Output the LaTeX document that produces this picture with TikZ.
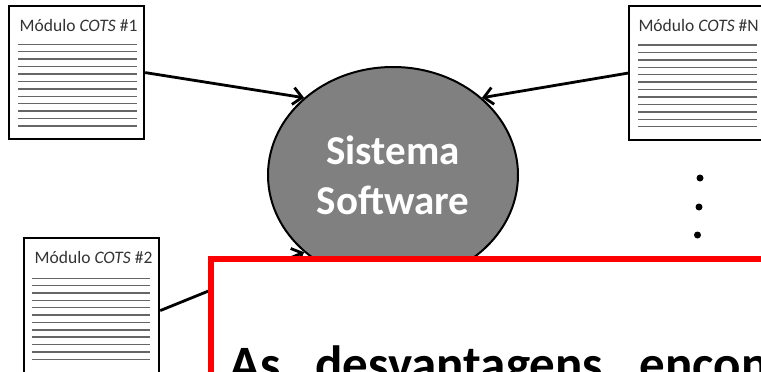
\documentclass[tikz,border=0pt]{standalone}
\usepackage{fontspec}
\setmainfont{Carlito}
\usetikzlibrary{arrows.meta,calc,shapes.geometric}
\tikzset{
  modbox/.style={draw=black, line width=2.2pt, fill=white, minimum width=135pt, minimum height=133pt, inner sep=0pt, anchor=north west},
  modlabel/.style={font=\fontsize{17.5}{20}\selectfont, text=black!80, inner sep=0pt},
  modline/.style={draw=black!60, line width=1.4pt},
  conn/.style={line width=2.8pt, -{Straight Barb[length=9pt,width=17pt,line width=2.8pt]}},
  sysnode/.style={ellipse, draw=black, line width=2pt, fill=black!50, minimum width=250pt, minimum height=216pt, inner sep=0pt, text=white, align=center, font=\fontsize{41}{50}\selectfont\bfseries},
  ellipdot/.style={circle, fill=black, minimum size=7pt, inner sep=0pt},
  redbox/.style={draw=red, line width=5.5pt, fill=white, anchor=north west, minimum width=620pt, minimum height=200pt, inner sep=0pt},
  bigtext/.style={font=\fontsize{51}{60}\selectfont\bfseries, inner sep=0pt, anchor=base west}
}
\begin{document}
\begin{tikzpicture}[x=1pt,y=-1pt]
\useasboundingbox (0,0) rectangle (761,372);
\clip (0,0) rectangle (761,372);
\fill[white] (0,0) rectangle (761,372);
% module boxes
\node[modbox] (m1) at (8,5) {};
\node[modbox, minimum height=134pt] (mN) at (628,5) {};
\node[modbox, minimum height=145pt] (m2) at (23,237) {};
\node[modlabel] (l1) at ($(m1.north)+(2,20)$) {Módulo \textit{COTS} \#1};
\node[modlabel] (lN) at ($(mN.north)+(2,20)$) {Módulo \textit{COTS} \#N};
\node[modlabel] (l2) at ($(m2.north)+(2,20)$) {Módulo \textit{COTS} \#2};
\foreach \i in {0,...,11} {
  \draw[modline] ($(m1.north west)+(10,39.3+7.43*\i)$) -- ++(119,0);
  \draw[modline] ($(mN.north west)+(10,40+7.43*\i)$) -- ++(119,0);
  \draw[modline] ($(m2.north west)+(9,41.3+7.36*\i)$) -- ++(118,0);
}
% system
\node[sysnode] (sys) at (393,175) {Sistema\\Software};
% connectors
\draw[conn] (m1.east) -- (sys.139.5);
\draw[conn] (mN.west) -- (sys.41);
\draw[conn] (m2.east) -- (sys.221);
% dots
\node[ellipdot] (d1) at (700,178) {};
\node[ellipdot] (d2) at (699,207) {};
\node[ellipdot] (d3) at (697.5,235) {};
% red panel
\node[redbox] (panel) at (208,256) {};
\node[bigtext] (txt) at (229.5,381) {As\hspace{34.5pt}desvantagens\hspace{36.5pt}encontradas};
\end{tikzpicture}
\end{document}
